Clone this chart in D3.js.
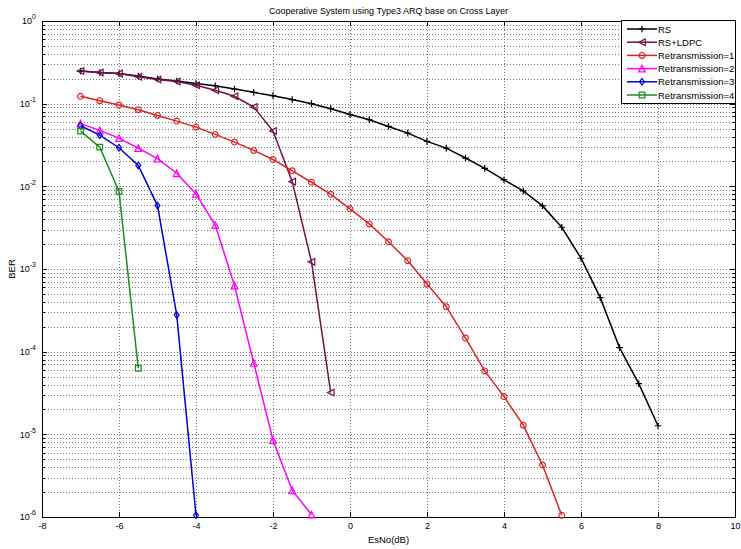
<!DOCTYPE html>
<meta charset="utf-8">
<style>
body { margin: 0; background: #fff; }
text { font-family: "Liberation Sans", Arial, sans-serif; fill: #000; }
.grid line { stroke: #777; stroke-dasharray: 1,2; stroke-width: 1; shape-rendering: crispEdges; }
.axis path, .axis line { stroke: #000; shape-rendering: crispEdges; }
.axis text { font-size: 9px; }
.curve { fill: none; stroke-width: 1.5; }
.mark { fill: none; stroke-width: 1.2; }
</style>
<body>
<script src="https://d3js.org/d3.v7.min.js"></script>
<script>
// EsNo (dB) values for each curve and BER
var esnoRS = [-7,-6.5,-6,-5.5,-5,-4.5,-4,-3.5,-3,-2.5,-2,-1.5,-1,-0.5,0,0.5,1,1.5,2,2.5,3,3.5,4,4.5,5,5.5,6,6.5,7,7.5,8];
var berRS = [0.248,0.238,0.231,0.216,0.199,0.188,0.175,0.165,0.150,0.137,0.125,0.112,0.100,0.087,0.074,0.064,
             0.053,0.044,0.035,0.029,0.022,0.0165,0.012,0.0088,0.0058,0.0032,0.00135,0.00045,0.000112,4.1e-5,1.27e-5];

var esnoLDPC = [-7,-6.5,-6,-5.5,-5,-4.5,-4,-3.5,-3,-2.5,-2,-1.5,-1,-0.5];
var berLDPC = [0.248,0.238,0.231,0.212,0.196,0.185,0.167,0.145,0.123,0.091,0.0466,0.0114,0.00122,3.2e-5];

var esnoR1 = [-7,-6.5,-6,-5.5,-5,-4.5,-4,-3.5,-3,-2.5,-2,-1.5,-1,-0.5,0,0.5,1,1.5,2,2.5,3,3.5,4,4.5,5,5.5];
var berR1 = [0.1226,0.1087,0.0962,0.0846,0.0721,0.0615,0.052,0.0425,0.0343,0.0272,0.0211,0.0154,0.0112,0.0080,
             0.00534,0.00351,0.00214,0.00126,6.6e-4,3.5e-4,1.46e-4,5.85e-5,2.86e-5,1.29e-5,4.25e-6,1.05e-6];

var esnoR2 = [-7,-6.5,-6,-5.5,-5,-4.5,-4,-3.5,-3,-2.5,-2,-1.5,-1];
var berR2 = [0.0573,0.0475,0.0383,0.029,0.0216,0.0144,0.0081,0.0034,6.3e-4,7.3e-5,8.5e-6,2.1e-6,1.07e-6];

var esnoR3 = [-7,-6.5,-6,-5.5,-5,-4.5,-4];
var berR3 = [0.054,0.0416,0.0293,0.0179,0.00585,2.77e-4,1.05e-6];

var esnoR4 = [-7,-6.5,-6,-5.5];
var berR4 = [0.0466,0.0298,0.0087,6.3e-5];

var names = ["RS","RS+LDPC","Retransmission=1","Retransmission=2","Retransmission=3","Retransmission=4"];
var xTicks = [-8,-6,-4,-2,0,2,4,6,8,10];
var yTicks = [1e-6,1e-5,1e-4,1e-3,1e-2,1e-1,1];

var series = [
  {name: names[0], x: esnoRS, y: berRS, color: "#000000", marker: "plus"},
  {name: names[1], x: esnoLDPC, y: berLDPC, color: "#6e1246", marker: "left"},
  {name: names[2], x: esnoR1, y: berR1, color: "#d82424", marker: "circle"},
  {name: names[3], x: esnoR2, y: berR2, color: "#ff00ff", marker: "up"},
  {name: names[4], x: esnoR3, y: berR3, color: "#0000c8", marker: "diamond"},
  {name: names[5], x: esnoR4, y: berR4, color: "#1f8a1f", marker: "square"}
];

var W = 741, H = 549;
var pLeft = 42, pRight = 735, pTop = 21, pBottom = 517;

var x = d3.scaleLinear().domain([-8, 10]).range([pLeft, pRight]);
var y = d3.scaleLog().domain([1e-6, 1]).range([pBottom, pTop]);

var svg = d3.select("body").append("svg")
    .attr("width", W)
    .attr("height", H);

// minor decade values 2..9
var minor = [];
for (var e = -6; e < 0; e++) {
  for (var m = 2; m <= 9; m++) minor.push(m * Math.pow(10, e));
}

// grid lines
var grid = svg.append("g").attr("class", "grid");
grid.selectAll(".gy").data(minor.concat(yTicks.slice(1, -1))).enter().append("line")
    .attr("x1", pLeft).attr("x2", pRight)
    .attr("y1", d => Math.round(y(d)) + 0.5).attr("y2", d => Math.round(y(d)) + 0.5);
grid.selectAll(".gx").data(xTicks.slice(1, -1)).enter().append("line")
    .attr("y1", pTop).attr("y2", pBottom)
    .attr("x1", d => Math.round(x(d)) + 0.5).attr("x2", d => Math.round(x(d)) + 0.5);

// axes (ticks inward, like MATLAB)
svg.append("g").attr("class", "axis")
    .attr("transform", "translate(0," + pBottom + ")")
    .call(d3.axisBottom(x).tickValues(xTicks).tickSizeInner(-5).tickSizeOuter(0).tickPadding(6).tickFormat(d => String(d)));
svg.append("g").attr("class", "axis")
    .attr("transform", "translate(0," + pTop + ")")
    .call(d3.axisTop(x).tickValues(xTicks).tickSizeInner(-5).tickSizeOuter(0).tickFormat(""));

var yl = svg.append("g").attr("class", "axis")
    .attr("transform", "translate(" + pLeft + ",0)")
    .call(d3.axisLeft(y).tickValues(yTicks).tickSizeInner(-5).tickSizeOuter(0).tickPadding(6).tickFormat(""));
yl.selectAll(".tick text").each(function(d) {
  var t = d3.select(this);
  t.append("tspan").text("10");
  t.append("tspan").attr("dy", -5).attr("font-size", "7px").text(Math.round(Math.log10(d)));
});
svg.append("g").attr("class", "axis")
    .attr("transform", "translate(" + pLeft + ",0)")
    .call(d3.axisLeft(y).tickValues(minor).tickSizeInner(-3).tickSizeOuter(0).tickFormat(""));
svg.append("g").attr("class", "axis")
    .attr("transform", "translate(" + pRight + ",0)")
    .call(d3.axisRight(y).tickValues(yTicks).tickSizeInner(-5).tickSizeOuter(0).tickFormat(""));
svg.append("g").attr("class", "axis")
    .attr("transform", "translate(" + pRight + ",0)")
    .call(d3.axisRight(y).tickValues(minor).tickSizeInner(-3).tickSizeOuter(0).tickFormat(""));

svg.append("rect")
    .attr("x", pLeft + 0.5).attr("y", pTop + 0.5)
    .attr("width", pRight - pLeft).attr("height", pBottom - pTop)
    .attr("fill", "none").attr("stroke", "#000").attr("shape-rendering", "crispEdges");

// marker path generator, centred on 0,0
function markerPath(type, s) {
  switch (type) {
    case "plus": return "M" + (-s) + ",0H" + s + "M0," + (-s) + "V" + s;
    case "left": return "M" + (-s) + ",0L" + s + "," + (-s) + "L" + s + "," + s + "Z";
    case "up": return "M0," + (-s) + "L" + s + "," + s + "L" + (-s) + "," + s + "Z";
    case "diamond": return "M0," + (-s) + "L" + (s * 0.75) + ",0L0," + s + "L" + (-s * 0.75) + ",0Z";
    case "square": return "M" + (-s) + "," + (-s) + "H" + s + "V" + s + "H" + (-s) + "Z";
    default: return "M" + (-s) + ",0A" + s + "," + s + " 0 1,0 " + s + ",0A" + s + "," + s + " 0 1,0 " + (-s) + ",0Z";
  }
}
function markSize(type) { return type === "circle" ? 2.9 : type === "square" ? 2.8 : 3.3; }

var line = d3.line().x(d => x(d[0])).y(d => y(d[1]));

series.forEach(function(s) {
  var pts = s.x.map((v, i) => [v, s.y[i]]);
  var g = svg.append("g");
  g.append("path").datum(pts).attr("class", "curve").attr("stroke", s.color).attr("d", line);
  g.selectAll("path.mark").data(pts).enter().append("path")
      .attr("class", "mark")
      .attr("stroke", s.color)
      .attr("transform", d => "translate(" + x(d[0]) + "," + y(d[1]) + ")")
      .attr("d", markerPath(s.marker, markSize(s.marker)));
});

// legend
var lg = svg.append("g").attr("transform", "translate(621,20)");
lg.append("rect").attr("x", 0.5).attr("y", 0.5).attr("width", 114).attr("height", 83)
    .attr("fill", "#fff").attr("stroke", "#000").attr("shape-rendering", "crispEdges");
series.forEach(function(s, i) {
  var yy = 9 + i * 13.2;
  lg.append("line").attr("x1", 6).attr("x2", 36).attr("y1", yy).attr("y2", yy)
      .attr("stroke", s.color).attr("stroke-width", 1.5);
  lg.append("path").attr("class", "mark").attr("stroke", s.color)
      .attr("transform", "translate(21," + yy + ")")
      .attr("d", markerPath(s.marker, markSize(s.marker)));
  lg.append("text").attr("x", 37).attr("y", yy + 3.5).attr("font-size", "9.5px").text(s.name);
});

// titles
svg.append("text").attr("x", (pLeft + pRight) / 2).attr("y", 14)
    .attr("text-anchor", "middle").attr("font-size", "9px")
    .text("Cooperative System using Type3 ARQ base on Cross Layer");
svg.append("text").attr("x", (pLeft + pRight) / 2).attr("y", 543)
    .attr("text-anchor", "middle").attr("font-size", "9.5px").text("EsNo(dB)");
svg.append("text").attr("transform", "translate(15," + ((pTop + pBottom) / 2) + ") rotate(-90)")
    .attr("text-anchor", "middle").attr("font-size", "9.5px").text("BER");
</script>
</body>
